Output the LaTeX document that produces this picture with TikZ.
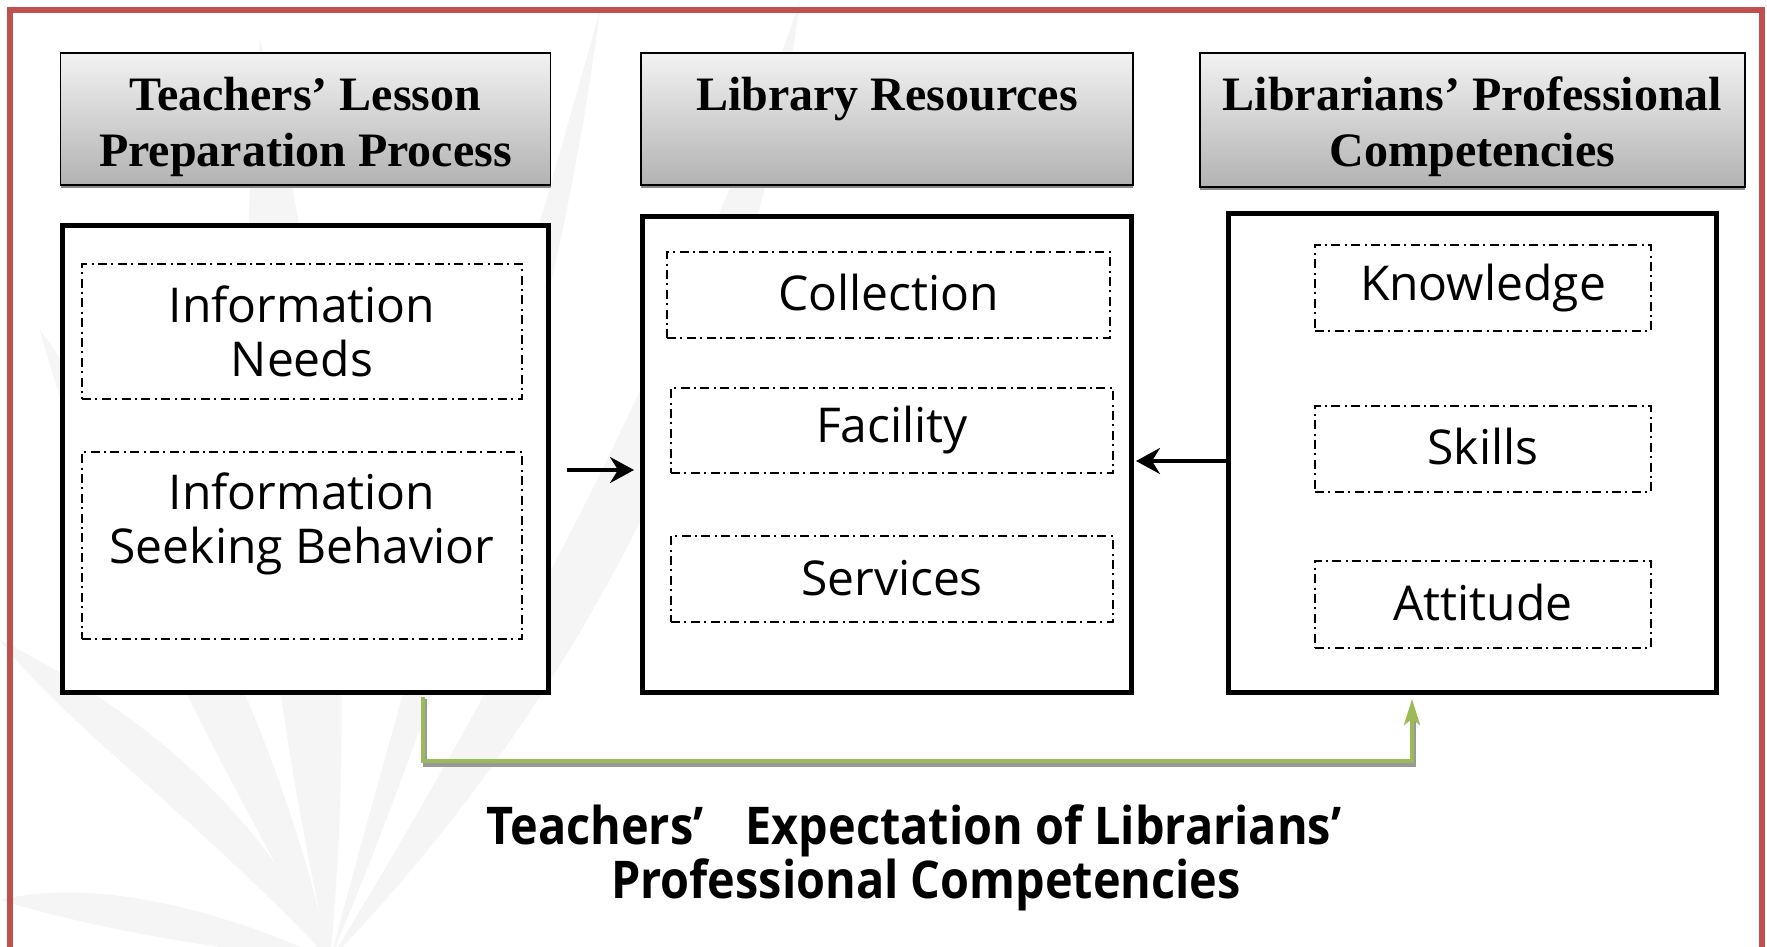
\documentclass[tikz,border=0pt]{standalone}
\usepackage{fontspec}
\setmainfont{Liberation Serif}
\newfontfamily\bodyfont{Open Sans}
\usetikzlibrary{arrows.meta,shadows,calc}
\definecolor{frame}{HTML}{C0504D}
\definecolor{ggreen}{HTML}{9BBB59}
\definecolor{wm}{HTML}{F5F5F5}
\tikzset{
  header/.style={draw=black, line width=0.7pt, top color=black!5, bottom color=black!30,
    inner sep=0pt,
    drop shadow={shadow xshift=0pt, shadow yshift=-1.6pt, fill=black!45, opacity=1}},
  headtext/.style={font=\bfseries\fontsize{24pt}{28pt}\selectfont, align=center, inner sep=0pt},
  mainbox/.style={draw=black, line width=2.5pt, fill=white, inner sep=0pt},
  itembox/.style={draw=black, line width=0.8pt, dash pattern=on 4.5pt off 2.2pt on 1pt off 2.2pt,
    font=\bodyfont\fontsize{24pt}{27pt}\selectfont, align=center, inner sep=0pt},
  itemtext/.style={font=\bodyfont\fontsize{24pt}{27pt}\selectfont, align=center, inner sep=0pt},
  blackarrow/.style={line width=1.7pt, -{Stealth[length=12pt, width=13pt, inset=4pt]}},
  greenarrow/.style={draw=ggreen, line width=2pt, -{Stealth[length=13pt, width=8pt, inset=3pt]}},
  leaf/.style={fill=wm, draw=none}
}
\begin{document}
\begin{tikzpicture}[x=0.5pt, y=-0.5pt]
\useasboundingbox (0,0) rectangle (1767,947);
\fill[white] (0,0) rectangle (1767,947);
% watermark leaves
\fill[leaf] (330,960) .. controls (200,820) and (60,720) .. (0,640) .. controls (120,700) and (260,800) .. (330,960);
\fill[leaf] (330,960) .. controls (180,700) and (80,480) .. (40,330) .. controls (150,480) and (280,720) .. (330,960);
\fill[leaf] (330,960) .. controls (260,650) and (230,320) .. (260,40) .. controls (330,320) and (360,650) .. (330,960);
\fill[leaf] (330,960) .. controls (420,620) and (520,300) .. (600,10) .. controls (560,320) and (460,650) .. (330,960);
\fill[leaf] (330,960) .. controls (520,650) and (700,300) .. (800,0) .. controls (760,330) and (600,680) .. (330,960);
\fill[leaf] (330,960) .. controls (200,900) and (80,880) .. (0,900) .. controls (100,930) and (220,950) .. (330,960);
% red frame
\draw[frame, line width=2.6pt] (10,955) -- (10,10) -- (1762,10) -- (1762,955);
% headers
\node[header, minimum width=245pt, minimum height=66pt] (h1) at (305.5,119) {};
\node[headtext] (h1t) at (305.5,127) {Teachers’ Lesson\\Preparation Process};
\node[header, minimum width=246pt, minimum height=66pt] (h2) at (887,119) {};
\node[headtext] (h2t) at (887,127) {Library Resources\\\phantom{Ag}};
\node[header, minimum width=272.5pt, minimum height=67pt] (h3) at (1472.5,120) {};
\node[headtext] (h3t) at (1472.5,127) {Librarians’ Professional\\Competencies};
% main boxes
\node[mainbox, minimum width=243pt, minimum height=233.5pt] (b1) at (305.5,459) {};
\node[mainbox, minimum width=244.5pt, minimum height=238pt] (b2) at (887,454.5) {};
\node[mainbox, minimum width=244pt, minimum height=239.5pt] (b3) at (1472.5,453) {};
% items
\node[itembox, minimum width=220pt, minimum height=67.5pt] (needs) at (302,331.5) {Information\\Needs};
\node[itembox, minimum width=220pt, minimum height=93.5pt] (seek) at (302,545.5) {};
\node[itemtext] (seektext) at (302,524) {Information\\Seeking Behavior};
\node[itembox, minimum width=221.5pt, minimum height=43pt] (coll) at (888.5,295) {\raisebox{2.5pt}{Collection}};
\node[itembox, minimum width=221pt, minimum height=42.5pt] (fac) at (892,430.5) {Facility};
\node[itembox, minimum width=221pt, minimum height=43pt] (serv) at (892,579) {\raisebox{1.5pt}{Services}};
\node[itembox, minimum width=168pt, minimum height=43pt] (know) at (1483,288) {\raisebox{-1pt}{Knowledge}};
\node[itembox, minimum width=168pt, minimum height=43pt] (skill) at (1483,449) {\raisebox{3pt}{Skills}};
\node[itembox, minimum width=168pt, minimum height=43.5pt] (att) at (1483,604.5) {\raisebox{2pt}{Attitude}};
% black arrows
\coordinate (a1s) at (567,470);
\draw[blackarrow, shorten >=3pt] (a1s) -- (a1s -| b2.west);
\coordinate (a2s) at (1226,461);
\draw[blackarrow, shorten >=1pt] (a2s -| b3.west) -- (a2s -| b2.east);
% green connector with shadow
\coordinate (g1) at (423,761);
\coordinate (g2) at (1412,761);
\draw[black!40, line width=2pt] ([xshift=0.8pt,yshift=-2pt]b1.south -| g1) -- ([xshift=0.8pt,yshift=-2pt]g1) -- ([xshift=0.8pt,yshift=-2pt]g2) -- ([xshift=0.8pt,yshift=-10pt]b3.south -| g2);
\draw[greenarrow] ([yshift=-1pt]b1.south -| g1) -- (g1) -- (g2) -- ([yshift=-2pt]b3.south -| g2);
% caption
\node[font=\bodyfont\bfseries\fontsize{26pt}{25.5pt}\selectfont, align=center, inner sep=0pt] (cap) at (914,858)
  {\scalebox{0.9}[1]{Teachers’\hspace{0.9em}Expectation of Librarians’}\\\hspace*{12pt}\scalebox{0.9}[1]{Professional Competencies}};
\end{tikzpicture}
\end{document}
